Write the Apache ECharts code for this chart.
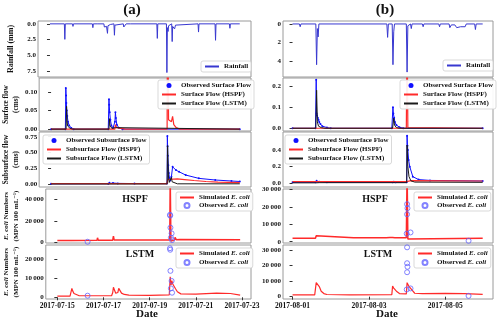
<!DOCTYPE html>
<html>
<head>
<meta charset="utf-8">
<script src="https://cdn.jsdelivr.net/npm/echarts@6/dist/echarts.min.js"></script>
<style>
  html, body { margin: 0; padding: 0; background: #fff; }
  #chart { width: 500px; height: 320px; }
</style>
</head>
<body>
<div id="chart"></div>
<script>
// x values are days after the first date of each column

// ---- column (a) : 2017-07-15 .. 2017-07-23 ----
var datesA = ['2017-07-15', '2017-07-17', '2017-07-19', '2017-07-21', '2017-07-23'];
var dateTicksA = [0, 2, 4, 6, 8];

var rainA = [[0,0],[0.60,0],[0.62,2.45],[0.64,0],[0.94,0],[0.96,0.4],[0.98,0],[1.77,0],[1.79,0.6],[1.81,0],
  [2.0,0],[2.02,0.3],[2.04,0],[2.25,0],[2.27,0.5],[2.29,0.2],[2.36,0.4],[2.38,0.2],[2.4,1.5],[2.42,0.3],
  [2.5,0.4],[2.52,0.1],[2.67,0],[2.69,1.8],[2.71,0.2],[2.75,0],[3.06,0],[3.08,0.5],[3.1,0.3],[3.13,0.6],
  [3.16,0.2],[3.18,0],[3.37,0],[3.39,0.3],[3.41,0],[4.46,0],[4.48,2.3],[4.5,0],[4.86,0],[4.88,7.7],
  [4.9,0.6],[4.93,1.2],[4.95,0.3],[5.08,0],[5.1,2.8],[5.12,0.4],[5.2,0.8],[5.24,0.2],[5.27,0],[6.18,0],
  [6.2,1.3],[6.22,0],[6.89,0],[6.91,2.6],[6.93,0],[7.49,0],[7.51,0.7],[7.53,0],[7.92,0]];

var surfObsA = [[0,0],[0.6,0],[0.62,0.11],[0.63,0.09],[0.64,0.07],[0.66,0.05],[0.68,0.035],[0.71,0.02],
  [0.76,0.01],[0.85,0.003],[0.95,0],[2.4,0],[2.43,0.08],[2.44,0.065],[2.46,0.045],[2.49,0.025],[2.53,0.01],
  [2.6,0.003],[2.68,0.02],[2.7,0.045],[2.72,0.03],[2.76,0.012],[2.85,0.003],[3.0,0],[7.92,0]];
var surfHspfA = [[0,0],[0.62,0],[0.64,0.003],[0.7,0],[2.68,0],[2.70,0.012],[2.75,0.004],[2.8,0],[3.12,0],
  [3.14,0.005],[3.2,0],[4.87,0],[4.89,0.5],[4.93,0.025],[5.05,0.02],[5.1,0.034],[5.15,0.012],[5.25,0.004],
  [5.4,0],[6.93,0],[6.95,0.004],[7.0,0],[7.92,0]];
var surfLstmA = [[0,0],[0.63,0],[0.65,0.061],[0.67,0.02],[0.7,0.008],[0.8,0.002],[0.9,0],[2.43,0],
  [2.45,0.028],[2.47,0.01],[2.55,0.002],[2.7,0.004],[2.75,0],[7.92,0]];

var subObsA = [[0,0.008],[2.4,0.01],[2.45,0.025],[2.6,0.02],[2.8,0.015],[3.5,0.012],[4.87,0.012],
  [4.88,0.76],[4.89,0.6],[4.9,0.45],[4.92,0.3],[4.94,0.18],[4.97,0.1],[5.0,0.06],[5.05,0.12],[5.1,0.276],
  [5.24,0.224],[5.37,0.198],[5.65,0.146],[6.2,0.094],[6.89,0.068],[7.57,0.052],[7.92,0.045]];
var subHspfA = [[0,0.012],[4.87,0.012],[4.89,0.075],[5.0,0.08],[5.3,0.085],[5.6,0.075],[6.0,0.06],
  [6.5,0.045],[7.0,0.035],[7.92,0.028]];
var subLstmA = [[0,0.005],[2.43,0.005],[2.45,0.02],[2.5,0.006],[4.87,0.006],[4.89,0.61],[4.91,0.3],
  [4.93,0.1],[4.96,0.03],[5.0,0.01],[5.05,0.11],[5.08,0.04],[5.12,0.01],[5.3,0.008],[7.92,0.008]];

var ecoliHspfA = [[0,2000],[0.6,2000],[0.62,3000],[0.66,2200],[1.72,2200],[1.74,4500],[1.77,2300],
  [2.4,2300],[2.43,6000],[2.46,2500],[2.68,2500],[2.70,4000],[2.73,2500],[3.1,2500],[3.14,3500],
  [3.18,2400],[4.46,2400],[4.48,3500],[4.5,2400],[4.87,2400],[4.89,60000],[4.92,1500],[4.96,2500],
  [5.08,2600],[5.1,5000],[5.15,2800],[5.3,2900],[7.92,2700]];
var ecoliLstmA = [[0,600],[0.55,600],[0.6,1500],[0.63,4700],[0.66,3500],[0.72,2000],[0.8,1200],
  [0.95,800],[2.35,800],[2.4,2500],[2.43,5300],[2.47,4000],[2.53,2100],[2.62,2500],[2.66,4700],
  [2.7,3800],[2.78,2200],[2.9,1500],[3.1,1100],[4.0,1000],[4.85,1300],[4.89,10800],[4.93,6500],
  [4.96,8700],[5.0,7000],[5.05,7700],[5.12,4500],[5.2,2900],[5.35,1800],[6.0,1700],[6.9,2200],
  [6.95,1800],[7.5,2000],[7.55,1700],[7.92,1100]];
var ecoliObsA = [[1.31,850],[4.88,25800],[4.89,25000],[4.9,13900],[4.92,4700],[4.95,8600],[4.97,2400]];

// ---- column (b) : 2017-08-01 .. 2017-08-06 ----
var datesB = ['2017-08-01', '2017-08-03', '2017-08-05'];
var dateTicksB = [0, 2, 4];

var rainB = [[0,0],[0.18,0],[0.2,0.3],[0.22,0],[0.61,0],[0.63,4.4],[0.65,0.5],[0.67,1.4],[0.69,0],
  [2.47,0],[2.49,1.45],[2.51,0],[2.61,0],[2.63,4.4],[2.65,0.85],[2.67,0],[2.98,0],[3.0,5.2],[3.02,0.2],
  [3.09,0],[3.11,0.5],[3.13,0],[3.40,0],[3.42,0.3],[3.44,0],[3.83,0],[3.85,0.3],[3.87,0],[4.1,0],
  [4.12,0.4],[4.16,0.1],[4.2,0.3],[4.25,0.1],[4.3,0.4],[4.34,0.2],[4.4,0.3],[4.45,0.1],[4.52,0.3],
  [4.55,0],[4.77,0],[4.79,0.6],[4.81,0],[4.98,0]];

var surfObsB = [[0,0],[0.6,0],[0.62,0.23],[0.63,0.07],[0.64,0.06],[0.66,0.05],[0.68,0.04],[0.7,0.03],
  [0.73,0.02],[0.78,0.01],[0.9,0.003],[1.0,0],[2.6,0],[2.63,0.1],[2.64,0.07],[2.66,0.05],[2.68,0.03],
  [2.72,0.015],[2.8,0.005],[2.9,0],[4.98,0]];
var surfHspfB = [[0,0],[2.98,0],[3.0,0.5],[3.02,0.003],[3.06,0],[4.98,0]];
var surfLstmB = [[0,0],[0.61,0],[0.63,0.18],[0.65,0.03],[0.68,0.01],[0.75,0.003],[0.85,0],[2.62,0],
  [2.65,0.048],[2.67,0.015],[2.72,0.003],[2.8,0],[4.98,0]];

var subObsB = [[0,0.012],[0.6,0.012],[0.63,0.03],[0.7,0.02],[0.9,0.012],[2.62,0.012],[2.65,0.02],
  [2.7,0.012],[2.99,0.012],[3.0,0.57],[3.01,0.45],[3.02,0.4],[3.04,0.28],[3.07,0.2],[3.15,0.08],
  [3.3,0.045],[3.6,0.035],[4.98,0.028]];
var subHspfB = [[0,0.02],[2.99,0.02],[3.01,0.03],[3.1,0.032],[4.98,0.028]];
var subLstmB = [[0,0.006],[0.62,0.006],[0.64,0.02],[0.7,0.008],[2.63,0.008],[2.65,0.015],[2.7,0.008],
  [2.99,0.008],[3.0,0.46],[3.02,0.2],[3.05,0.08],[3.1,0.03],[3.2,0.015],[4.98,0.012]];

var ecoliHspfB = [[0,2000],[0.6,2000],[0.62,3400],[0.65,2300],[1.6,2300],[1.65,2600],[1.7,2300],
  [2.45,2300],[2.5,3000],[2.55,2400],[2.62,2400],[2.65,3000],[2.68,2300],[2.98,2300],[3.0,40000],
  [3.02,1500],[3.05,2000],[4.98,2000]];
var ecoliLstmB = [[0,1100],[0.58,1100],[0.6,5000],[0.62,9000],[0.64,8000],[0.66,9500],[0.7,6500],
  [0.75,3500],[0.82,2000],[0.9,1400],[1.5,1200],[2.6,1300],[2.62,6900],[2.65,5500],[2.68,6000],
  [2.72,3500],[2.8,2000],[2.98,1800],[3.0,9000],[3.04,7000],[3.08,6500],[3.12,4500],[3.2,2200],
  [3.4,1900],[4.0,2100],[4.5,1900],[4.98,1500]];
var ecoliObsB = [[3.0,31700],[3.0,21500],[3.01,19200],[3.0,15700],[2.99,4600],[3.09,5300],[4.61,500]];

// y tick labels
var ticksRainA = [0, 2.5, 5, 7.5];
var ticksSurfA = [0, 0.05, 0.1];
var ticksSubA = [0, 0.25, 0.5, 0.75];
var ticksHspfA = [0, 20000, 40000];
var ticksLstmA = [0, 10000, 20000];
var ticksRainB = [0, 2, 4];
var ticksSurfB = [0, 0.1, 0.2];
var ticksSubB = [0, 0.2, 0.4];
var ticksHspfB = [0, 10000, 20000, 30000];
var ticksLstmB = [0, 10000, 20000, 30000];

var SERIF = "'Liberation Serif', 'DejaVu Serif', serif";
var RAIN = '#3838d0', OBS = '#1010ff', RED = '#ff2a2a', BLACK = '#1a1a1a', CIRC = '#6464ff';

var COLS = [{ left: 38, width: 213 }, { left: 283, width: 210 }];
var ROWS = [[21, 56], [78, 53], [132, 55], [189, 54], [245, 54]];
var xRange = [[-0.5, 8.39], [-0.25, 5.25]];
var yRange = [
  [[-0.45, 8.4], [-0.005, 0.137], [-0.042, 0.824], [-300, 49700], [-900, 27500]],
  [[-0.32, 5.73], [-0.013, 0.238], [-0.044, 0.616], [-750, 30200], [-1500, 33200]]
];
var yTicks = [
  [ticksRainA, ticksSurfA, ticksSubA, ticksHspfA, ticksLstmA],
  [ticksRainB, ticksSurfB, ticksSubB, ticksHspfB, ticksLstmB]
];
var yDec = [[1, 2, 2, -1, -1], [0, 1, 1, -1, -1]];
var yNames = ['Rainfall (mm)', 'Surface flow\n(cms)', 'Subsurface flow\n(cms)',
  '{i|E. coli} Numbers\n(MPN 100 mL\u207B\u00B9)', '{i|E. coli} Numbers\n(MPN 100 mL\u207B\u00B9)'];
var yNameGap = [22, 14, 14, 17, 17];
var yNameSize = [8, 7.2, 7.2, 7, 7];

function fmt(v, dec) {
  if (dec < 0) return String(v).replace(/(\d)(?=(\d{3})+$)/, '$1\u2009');
  return v.toFixed(dec);
}

var grids = [], xAxes = [], yAxes = [];
[0, 1].forEach(function (c) {
  ROWS.forEach(function (row, r) {
    var g = c * 5 + r;
    grids.push({
      left: COLS[c].left, width: COLS[c].width, top: row[0], height: row[1],
      show: true, borderColor: '#9a9a9a', borderWidth: 1, backgroundColor: '#fff'
    });
    var dates = c === 0 ? datesA : datesB;
    var dTicks = c === 0 ? dateTicksA : dateTicksB;
    var bottom = r === 4;
    xAxes.push({
      gridIndex: g, type: 'value', min: xRange[c][0], max: xRange[c][1],
      axisLine: { show: false }, splitLine: { show: false },
      axisTick: { show: bottom, customValues: dTicks, length: 3, lineStyle: { color: '#333' } },
      axisLabel: {
        show: bottom, customValues: dTicks, margin: 3,
        fontFamily: SERIF, fontWeight: 'bold', fontSize: 7.5, color: '#111',
        formatter: function (v) { return dates[dTicks.indexOf(v)]; }
      }
    });
    var dec = yDec[c][r];
    yAxes.push({
      gridIndex: g, type: 'value', min: yRange[c][r][0], max: yRange[c][r][1], inverse: r === 0,
      axisLine: { show: false }, splitLine: { show: false },
      axisTick: { show: true, customValues: yTicks[c][r], length: 3, lineStyle: { color: '#333' } },
      axisLabel: {
        customValues: yTicks[c][r], margin: 2,
        fontFamily: SERIF, fontWeight: 'bold', fontSize: 7, color: '#111',
        formatter: function (v) { return fmt(v, dec); }
      },
      name: c === 0 ? yNames[r] : '', nameLocation: 'middle', nameGap: yNameGap[r],
      nameTextStyle: {
        fontFamily: SERIF, fontWeight: 'bold', fontSize: yNameSize[r], lineHeight: 10, color: '#111',
        rich: { i: { fontFamily: SERIF, fontWeight: 'bold', fontStyle: 'italic', fontSize: yNameSize[r], lineHeight: 10, color: '#111' } }
      }
    });
  });
});

function line(name, data, g, color, width, z) {
  return {
    name: name, type: 'line', data: data, xAxisIndex: g, yAxisIndex: g,
    symbol: 'none', z: z || 2, color: color,
    lineStyle: { color: color, width: width }
  };
}
function obsLine(name, data, g) {
  return {
    name: name, type: 'line', data: data, xAxisIndex: g, yAxisIndex: g,
    symbol: 'circle', symbolSize: 2, showSymbol: true, color: OBS, z: 2,
    itemStyle: { color: OBS }, lineStyle: { color: OBS, width: 1 }
  };
}
function obsCircles(data, g) {
  return {
    name: 'Observed E. coli', type: 'scatter', data: data, xAxisIndex: g, yAxisIndex: g,
    symbol: 'circle', symbolSize: 5, z: 4, color: CIRC,
    itemStyle: { color: 'rgba(0,0,0,0)', borderColor: CIRC, borderWidth: 1 }
  };
}

var series = [
  line('Rainfall', rainA, 0, RAIN, 1),
  obsLine('Observed Surface Flow', surfObsA, 1),
  line('Surface Flow (HSPF)', surfHspfA, 1, RED, 1.2, 3),
  line('Surface Flow (LSTM)', surfLstmA, 1, BLACK, 1, 3),
  obsLine('Observed Subsurface Flow', subObsA, 2),
  line('Subsurface Flow (HSPF)', subHspfA, 2, RED, 1.2, 3),
  line('Subsurface Flow (LSTM)', subLstmA, 2, BLACK, 1, 3),
  line('Simulated E. coli', ecoliHspfA, 3, RED, 1.5),
  obsCircles(ecoliObsA, 3),
  line('Simulated E. coli', ecoliLstmA, 4, RED, 1.2),
  obsCircles(ecoliObsA, 4),
  line('Rainfall', rainB, 5, RAIN, 1),
  obsLine('Observed Surface Flow', surfObsB, 6),
  line('Surface Flow (HSPF)', surfHspfB, 6, RED, 1.2, 3),
  line('Surface Flow (LSTM)', surfLstmB, 6, BLACK, 1, 3),
  obsLine('Observed Subsurface Flow', subObsB, 7),
  line('Subsurface Flow (HSPF)', subHspfB, 7, RED, 1.2, 3),
  line('Subsurface Flow (LSTM)', subLstmB, 7, BLACK, 1, 3),
  line('Simulated E. coli', ecoliHspfB, 8, RED, 1.5),
  obsCircles(ecoliObsB, 8),
  line('Simulated E. coli', ecoliLstmB, 9, RED, 1.2),
  obsCircles(ecoliObsB, 9)
];

// legend entries: lines get no marker, observed flows get a dot
function lineItem(name) { return { name: name, itemStyle: { opacity: 0 } }; }
function dotItem(name) { return { name: name, icon: 'circle' }; }

function legend(names, left, top, gap) {
  return {
    data: names, left: left, top: top, orient: 'vertical',
    itemWidth: 14, itemHeight: 5, itemGap: gap, selectedMode: false,
    padding: [2, 3, 2, 3], borderColor: '#cfcfcf', borderWidth: 0.8, borderRadius: 2,
    backgroundColor: 'rgba(255,255,255,0.92)',
    textStyle: {
      fontFamily: SERIF, fontWeight: 'bold', fontSize: 7, color: '#111',
      rich: { i: { fontFamily: SERIF, fontWeight: 'bold', fontStyle: 'italic', fontSize: 7, color: '#111' } }
    },
    formatter: function (n) { return n.replace('E. coli', '{i|E. coli}'); }
  };
}
var rainNames = [lineItem('Rainfall')];
var surfNames = [dotItem('Observed Surface Flow'), lineItem('Surface Flow (HSPF)'), lineItem('Surface Flow (LSTM)')];
var subNames = [dotItem('Observed Subsurface Flow'), lineItem('Subsurface Flow (HSPF)'), lineItem('Subsurface Flow (LSTM)')];
var ecoliNames = [lineItem('Simulated E. coli'), 'Observed E. coli'];

var legends = [
  legend(rainNames, 201, 61, 0),
  legend(surfNames, 158, 80, 2),
  legend(subNames, 43, 135, 2),
  legend(ecoliNames, 176, 192, 1),
  legend(ecoliNames, 176, 248, 2),
  legend(rainNames, 443, 60, 0),
  legend(surfNames, 400, 80, 2),
  legend(subNames, 285, 135, 2),
  legend(ecoliNames, 414, 192, 1),
  legend(ecoliNames, 414, 248, 2)
];

function label(text, x, y, size) {
  return {
    type: 'text', x: x, y: y, z: 10,
    style: { text: text, font: 'bold ' + size + 'px ' + SERIF, fill: '#111', align: 'center', verticalAlign: 'middle' }
  };
}

var chart = echarts.init(document.getElementById('chart'));
chart.setOption({
  animation: false,
  backgroundColor: '#fff',
  grid: grids,
  xAxis: xAxes,
  yAxis: yAxes,
  legend: legends,
  series: series,
  graphic: [
    label('(a)', 132, 10, 15),
    label('(b)', 385, 10, 15),
    label('HSPF', 135, 199, 10),
    label('HSPF', 375, 199, 10),
    label('LSTM', 140, 254, 10),
    label('LSTM', 378, 254, 10),
    label('Date', 147, 314, 11),
    label('Date', 387, 314, 11)
  ]
});
</script>
</body>
</html>
